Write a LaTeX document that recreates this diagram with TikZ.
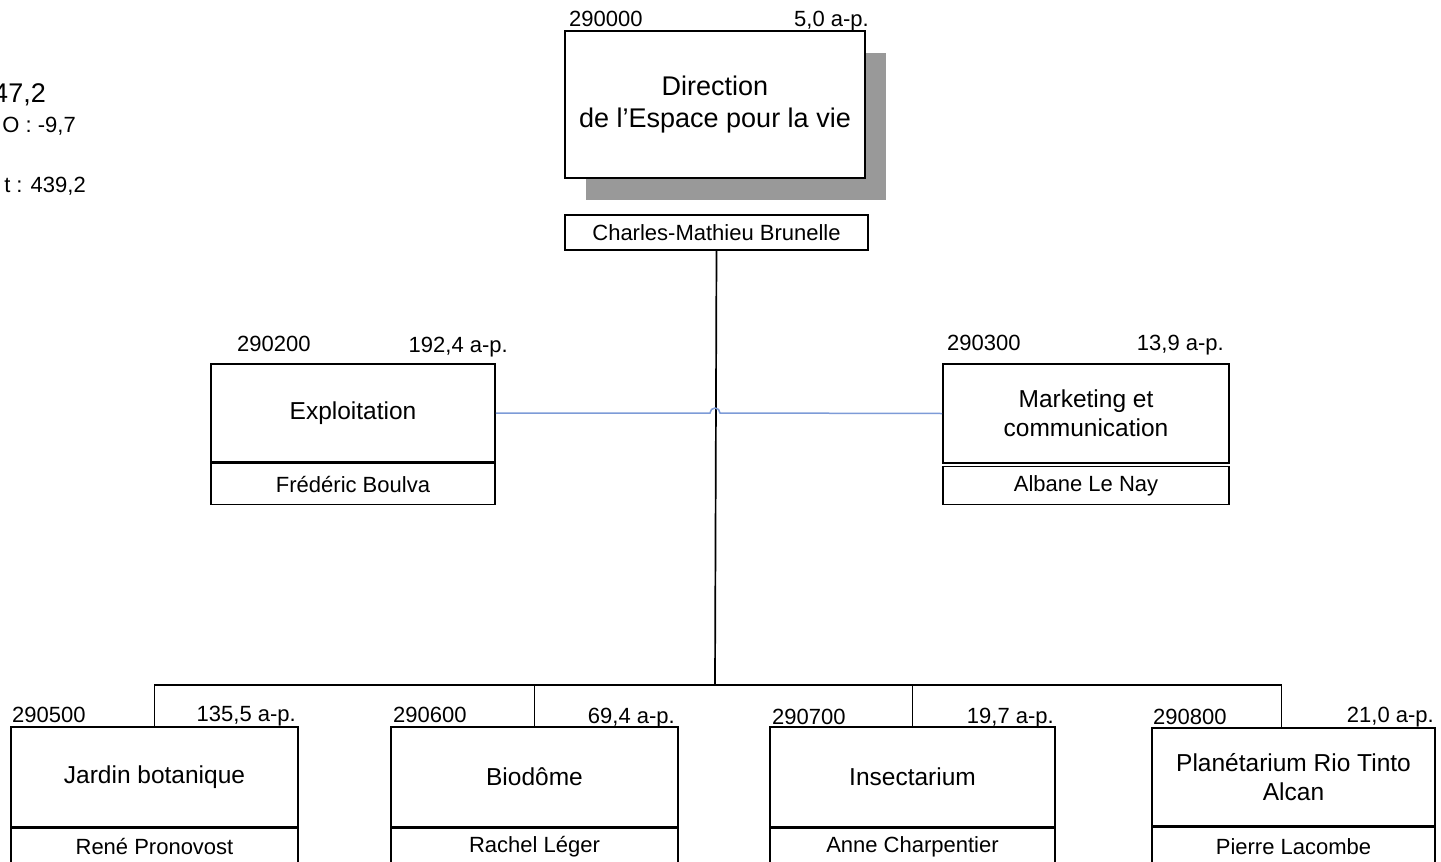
\documentclass[tikz,border=0pt]{standalone}
\usepackage{fontspec}
\setmainfont{Liberation Sans}
\usepackage{tikz}
\usetikzlibrary{shadows}
\definecolor{linkblue}{RGB}{125, 155, 215}
\definecolor{shadowgray}{RGB}{153, 153, 153}
\newcommand{\titlefont}{\fontsize{27}{32}\selectfont}
\newcommand{\unitfont}{\fontsize{24.5}{29}\selectfont}
\newcommand{\smallfont}{\fontsize{22}{26}\selectfont}

\begin{document}
\begin{tikzpicture}[x=1pt, y=-1pt,
  unitbox/.style={draw, line width=1.6pt, fill=white, inner sep=0pt, minimum width=286pt, minimum height=99pt, align=center, font=\unitfont},
  namebox/.style={draw, line width=1.6pt, fill=white, inner sep=0pt, minimum width=286pt, minimum height=40pt, anchor=north, font=\smallfont},
  codelbl/.style={anchor=base west, inner sep=0pt, font=\smallfont},
  aplbl/.style={anchor=base east, inner sep=0pt, font=\smallfont},
  link/.style={line width=1.7pt},
  bluelink/.style={draw=linkblue, line width=1.5pt}]
  \useasboundingbox (0,0) rectangle (1441,862);
  \clip (0,0) rectangle (1441,862);

  % Summary figures (cut at the left edge)
  \node[anchor=base east, inner sep=0pt, font=\titlefont] (sumtop) at (46,102) {47,2};
  \node[anchor=base east, inner sep=0pt, font=\smallfont] (summid) at (76,132) {O : -9,7};
  \node[anchor=base east, inner sep=0pt, font=\smallfont] (sumlow) at (86,192) {t : 439,2};

  % Direction
  \node[unitbox, font=\titlefont, minimum width=300pt, minimum height=147pt,
        drop shadow={shadow xshift=21pt, shadow yshift=-22pt, fill=shadowgray, opacity=1}] (dir) at (715,104.5) {Direction\\de l’Espace pour la vie};
  \node[namebox, minimum width=303pt, minimum height=35pt] (dirname) at (716.5,214) {Charles-Mathieu Brunelle};
  \node[codelbl] (dircode) at (569,27) {290000};
  \node[aplbl] (dirap) at (869,27) {5,0 a-p.};

  % Staff units
  \node[unitbox, minimum width=284pt, minimum height=98pt] (expl) at (353,413) {Exploitation};
  \node[namebox, minimum width=284pt, minimum height=41pt] (explname) at (expl.south) {Frédéric Boulva};
  \node[codelbl] (explcode) at (237,351) {290200};
  \node[aplbl] (explap) at (508,352) {192,4 a-p.};

  \node[unitbox] (mkt) at (1086,413.5) {Marketing et\\communication};
  \node[namebox, minimum height=38pt] (mktname) at ([yshift=-2pt]mkt.south) {Albane Le Nay};
  \node[codelbl] (mktcode) at (947,350) {290300};
  \node[aplbl] (mktap) at (1224,350) {13,9 a-p.};

  % Institutions
  \node[unitbox, minimum width=287pt, minimum height=100pt] (jardin) at (154.5,777) {Jardin botanique};
  \node[namebox, minimum width=287pt, minimum height=36pt] (jardinname) at (jardin.south) {René Pronovost};
  \node[codelbl] (jardincode) at (12,722) {290500};
  \node[aplbl] (jardinap) at (296,721) {135,5 a-p.};

  \node[unitbox, minimum width=287pt, minimum height=100pt] (bio) at (534.5,777) {Biodôme};
  \node[namebox, minimum width=287pt, minimum height=36pt] (bioname) at (bio.south) {Rachel Léger};
  \node[codelbl] (biocode) at (393,722) {290600};
  \node[aplbl] (bioap) at (675,723) {69,4 a-p.};

  \node[unitbox, minimum width=285pt, minimum height=100pt] (insect) at (912.5,777) {Insectarium};
  \node[namebox, minimum width=285pt, minimum height=36pt] (insectname) at (insect.south) {Anne Charpentier};
  \node[codelbl] (insectcode) at (772,724) {290700};
  \node[aplbl] (insectap) at (1054,723) {19,7 a-p.};

  \node[unitbox, minimum width=283pt, minimum height=98pt] (plan) at (1293.5,777) {Planétarium Rio Tinto\\Alcan};
  \node[namebox, minimum width=283pt, minimum height=38pt] (planname) at (plan.south) {Pierre Lacombe};
  \node[codelbl] (plancode) at (1153,724) {290800};
  \node[aplbl] (planap) at (1434,722) {21,0 a-p.};

  % Links
  \coordinate (bus) at (715,685);
  \coordinate (hop) at (715,413);
  \draw[link] (dirname.south) -- (bus);
  \draw[link] (jardin.north) |- (bus);
  \draw[link] (bio.north) |- (bus);
  \draw[link] (insect.north) |- (bus);
  \draw[link] ([xshift=-12pt]plan.north) |- (bus);
  \draw[bluelink] (expl.east) -- ([xshift=-5pt]hop) arc[start angle=180, end angle=0, radius=5pt] -- (mkt.west);
\end{tikzpicture}
\end{document}
